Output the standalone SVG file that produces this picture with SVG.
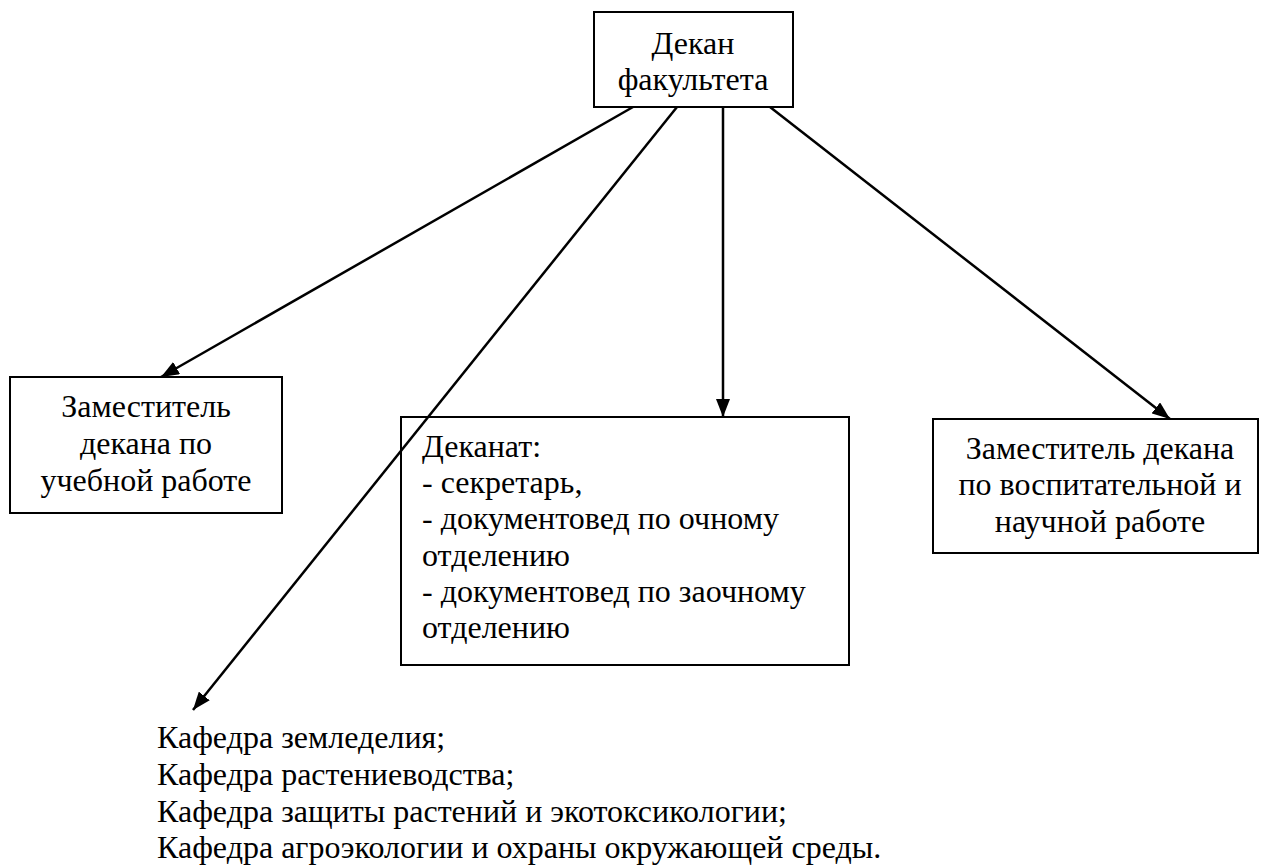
<svg xmlns="http://www.w3.org/2000/svg" width="1269" height="868" viewBox="0 0 1269 868">
<style>
.box{fill:#fff;stroke:#000;stroke-width:2}
.t{font-family:"Liberation Serif","Times New Roman",serif;font-size:32px;fill:#000}
.c{text-anchor:middle}
.ln{stroke:#000;stroke-width:2.5;fill:none}
</style>
<defs>
<marker id="ah" markerWidth="18" markerHeight="14" refX="18" refY="7" orient="auto" markerUnits="userSpaceOnUse" viewBox="0 0 18 14">
<path d="M0,0 L18,7 L0,14 Z" fill="#000"/>
</marker>
</defs>
<g id="dean">
<rect class="box" x="594" y="12" width="199" height="95"/>
<text class="t c" x="693" y="54">Декан</text>
<text class="t c" x="693" y="90">факультета</text>
</g>
<g id="deputy-study">
<rect class="box" x="10" y="377" width="272" height="136"/>
<text class="t c" x="146" y="417">Заместитель</text>
<text class="t c" x="146" y="454">декана по</text>
<text class="t c" x="146" y="491">учебной работе</text>
</g>
<g id="deanery">
<rect class="box" x="401" y="417" width="448" height="248"/>
<text class="t" x="422" y="457">Деканат:</text>
<text class="t" x="422" y="493">- секретарь,</text>
<text class="t" x="422" y="529">- документовед по очному</text>
<text class="t" x="422" y="566">отделению</text>
<text class="t" x="422" y="602">- документовед по заочному</text>
<text class="t" x="422" y="638">отделению</text>
</g>
<g id="deputy-edu">
<rect class="box" x="933" y="419" width="325" height="134"/>
<text class="t c" x="1100" y="459">Заместитель декана</text>
<text class="t c" x="1100" y="495">по воспитательной и</text>
<text class="t c" x="1100" y="532">научной работе</text>
</g>
<g id="departments">
<text class="t" x="157" y="748">Кафедра земледелия;</text>
<text class="t" x="157" y="785">Кафедра растениеводства;</text>
<text class="t" x="157" y="822">Кафедра защиты растений и экотоксикологии;</text>
<text class="t" x="157" y="858">Кафедра агроэкологии и охраны окружающей среды.</text>
</g>
<g id="connectors">
<line class="ln" x1="633" y1="107" x2="161" y2="377" marker-end="url(#ah)"/>
<line class="ln" x1="677" y1="107" x2="193" y2="710" marker-end="url(#ah)"/>
<line class="ln" x1="723" y1="107" x2="723" y2="417" marker-end="url(#ah)"/>
<line class="ln" x1="770" y1="107" x2="1170" y2="419" marker-end="url(#ah)"/>
</g>
</svg>
